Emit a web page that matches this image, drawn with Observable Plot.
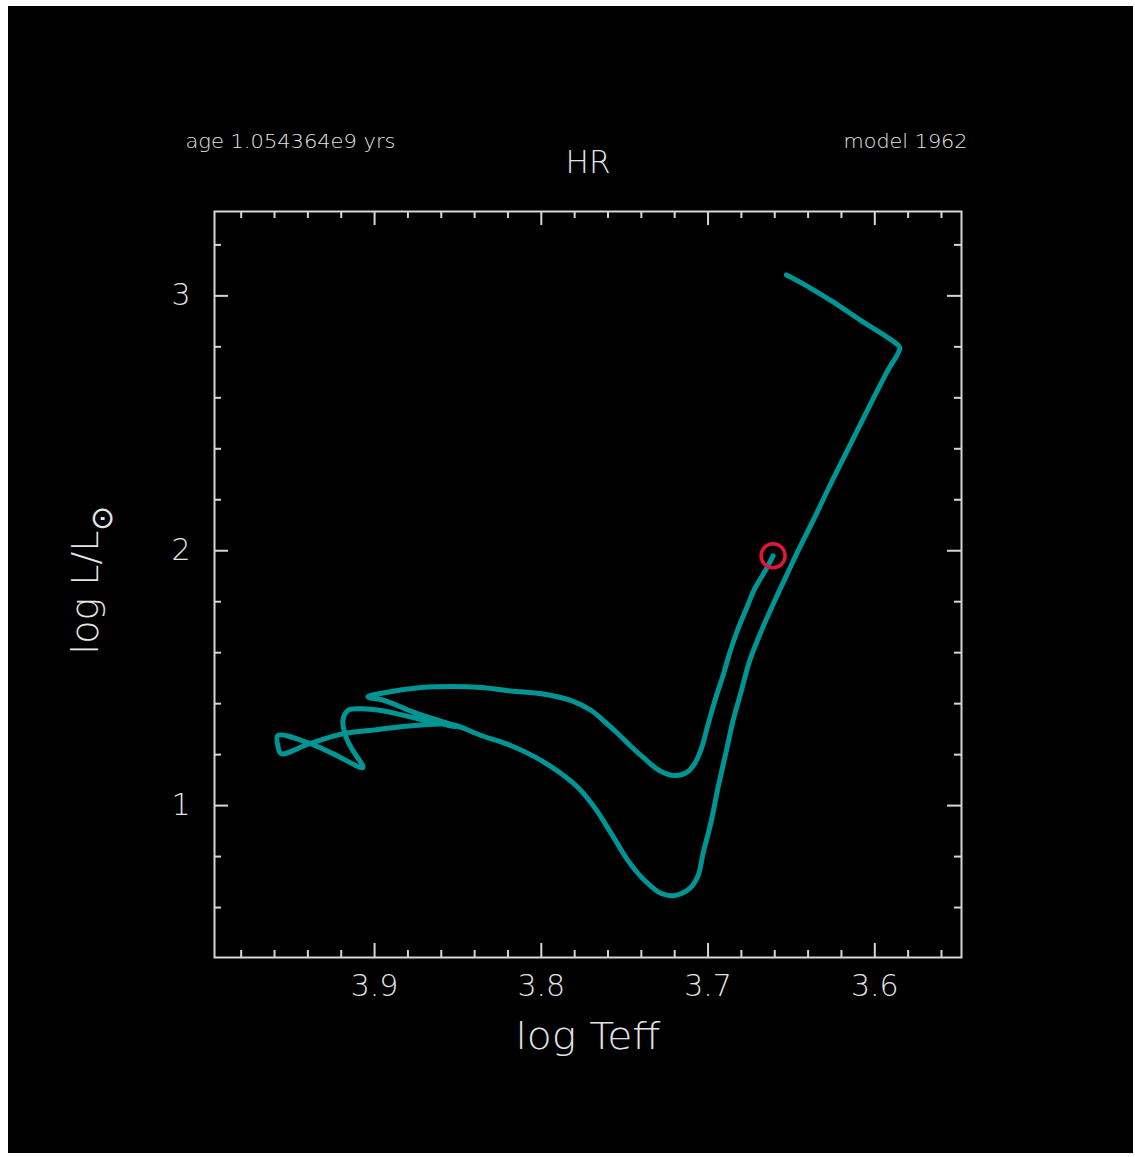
<!DOCTYPE html>
<html>
<head>
<meta charset="utf-8">
<script src="https://cdn.jsdelivr.net/npm/d3@7"></script>
<script src="https://cdn.jsdelivr.net/npm/@observablehq/plot@0.6"></script>
<style>
  html, body { margin: 0; padding: 0; background: #ffffff; }
  #panel { position: absolute; left: 8px; top: 6px; width: 1125px; height: 1147px; background: #000000; }
  #panel svg { display: block; }
</style>
</head>
<body>
<div id="panel"></div>
<script>
// Evolutionary track in the HR diagram, in order of model number
const trackLogTeff = [
  3.653, 3.644, 3.626, 3.608, 3.587, 3.585,
  3.593, 3.604, 3.615, 3.627, 3.637, 3.646, 3.653, 3.660, 3.668, 3.675,
  3.680, 3.685, 3.689, 3.694, 3.698, 3.703, 3.706, 3.711, 3.720,
  3.728, 3.738, 3.748, 3.758, 3.768, 3.778, 3.788, 3.803, 3.818, 3.836, 3.854,
  3.876, 3.899, 3.919, 3.939, 3.956, 3.958, 3.958, 3.940, 3.925, 3.907,
  3.913, 3.917, 3.919, 3.916, 3.909, 3.896, 3.874, 3.851,
  3.876, 3.894, 3.904,
  3.894, 3.872, 3.854, 3.836, 3.820, 3.800, 3.782, 3.770, 3.762, 3.754, 3.746,
  3.738, 3.729, 3.720, 3.713, 3.708, 3.704, 3.701, 3.698, 3.695, 3.691, 3.687,
  3.682, 3.677, 3.672, 3.666, 3.661
];
const trackLogL = [
  3.082, 3.051, 2.980, 2.902, 2.812, 2.796,
  2.698, 2.557, 2.412, 2.255, 2.118, 2.000, 1.902, 1.804, 1.686, 1.569,
  1.451, 1.333, 1.216, 1.071, 0.941, 0.812, 0.725, 0.675, 0.647,
  0.655, 0.706, 0.784, 0.890, 0.992, 1.071, 1.125, 1.188, 1.235, 1.275, 1.318,
  1.314, 1.298, 1.282, 1.243, 1.204, 1.235, 1.275, 1.247, 1.204, 1.149,
  1.216, 1.267, 1.333, 1.373, 1.380, 1.373, 1.341, 1.310,
  1.365, 1.412, 1.427,
  1.443, 1.463, 1.467, 1.463, 1.451, 1.439, 1.412, 1.373, 1.329, 1.282, 1.231,
  1.184, 1.137, 1.118, 1.129, 1.165, 1.224, 1.294, 1.365, 1.431, 1.510, 1.600,
  1.694, 1.773, 1.851, 1.918, 1.980
];

// Axis ticks
const xMajorTicks = [3.9, 3.8, 3.7, 3.6];
const xMinorTicks = [3.98, 3.96, 3.94, 3.92, 3.88, 3.86, 3.84, 3.82, 3.78, 3.76, 3.74, 3.72,
                     3.68, 3.66, 3.64, 3.62, 3.58, 3.56];
const yMajorTicks = [1, 2, 3];
const yMinorTicks = [0.6, 0.8, 1.2, 1.4, 1.6, 1.8, 2.2, 2.4, 2.6, 2.8, 3.2];
const xTickLabels = ["3.9", "3.8", "3.7", "3.6"];
const yTickLabels = ["1", "2", "3"];

// Header texts
const titleText = "HR";
const ageText = "age 1.054364e9 yrs";
const modelText = "model 1962";
const xLabelText = "log Teff";

const W = 1125, H = 1147;
const M = {top: 205, right: 172, bottom: 196, left: 206};
const frameW = W - M.left - M.right;
const frameH = H - M.top - M.bottom;
const majorLen = 14, minorLen = 7;
const axisColor = "#d6d6d6";
const textColor = "#e4e4e4";
const trackColor = "#009595";
const markerColor = "#e2143c";
const font = "'DejaVu Sans', sans-serif";
const fontWeight = 200;

const track = trackLogTeff.map((t, i) => ({logTeff: t, logL: trackLogL[i]}));
const current = track[track.length - 1];

const tickStyle = {stroke: axisColor, strokeWidth: 2};
const textStyle = {fill: textColor, fontWeight, lineAnchor: "middle"};

const chart = Plot.plot({
  width: W,
  height: H,
  marginTop: M.top,
  marginRight: M.right,
  marginBottom: M.bottom,
  marginLeft: M.left,
  style: {background: "#000000", color: textColor, fontFamily: font},
  x: {domain: [3.996, 3.548]},
  y: {domain: [0.404, 3.331]},
  marks: [
    // inward ticks on all four sides
    Plot.tickX(xMinorTicks, {x: d => d, insetTop: frameH - minorLen, ...tickStyle}),
    Plot.tickX(xMinorTicks, {x: d => d, insetBottom: frameH - minorLen, ...tickStyle}),
    Plot.tickX(xMajorTicks, {x: d => d, insetTop: frameH - majorLen, ...tickStyle}),
    Plot.tickX(xMajorTicks, {x: d => d, insetBottom: frameH - majorLen, ...tickStyle}),
    Plot.tickY(yMinorTicks, {y: d => d, insetRight: frameW - minorLen, ...tickStyle}),
    Plot.tickY(yMinorTicks, {y: d => d, insetLeft: frameW - minorLen, ...tickStyle}),
    Plot.tickY(yMajorTicks, {y: d => d, insetRight: frameW - majorLen, ...tickStyle}),
    Plot.tickY(yMajorTicks, {y: d => d, insetLeft: frameW - majorLen, ...tickStyle}),
    Plot.frame({stroke: axisColor, strokeWidth: 2}),
    Plot.axisX(xMajorTicks, {anchor: "bottom", tickSize: 0, tickPadding: 17, fontSize: 30,
      fontWeight, tickFormat: (d, i) => xTickLabels[i], label: null, fill: textColor}),
    Plot.axisY(yMajorTicks, {anchor: "left", tickSize: 0, tickPadding: 24, fontSize: 30,
      fontWeight, tickFormat: (d, i) => yTickLabels[i], label: null, fill: textColor}),
    // the track and the current model
    Plot.line(track, {x: "logTeff", y: "logL", stroke: trackColor, strokeWidth: 5,
      curve: "catmull-rom", strokeLinejoin: "round", strokeLinecap: "round"}),
    Plot.dot([current], {x: "logTeff", y: "logL", r: 12, stroke: markerColor, strokeWidth: 3.5, fill: "none"}),
    // titles
    Plot.text([titleText], {frameAnchor: "top", dy: -49, fontSize: 32, ...textStyle}),
    Plot.text([ageText], {frameAnchor: "top-left", textAnchor: "start", dx: -29, dy: -70, fontSize: 20, ...textStyle}),
    Plot.text([modelText], {frameAnchor: "top-right", textAnchor: "end", dx: 6, dy: -70, fontSize: 20, ...textStyle}),
    Plot.text([xLabelText], {frameAnchor: "bottom", dy: 79, fontSize: 38, ...textStyle})
  ]
});

const svg = d3.select(chart);
const widths = {[ageText]: 210, [modelText]: 124, [xLabelText]: 145, [titleText]: 45};
svg.selectAll("text").each(function() {
  const w = widths[this.textContent];
  if (w) d3.select(this).attr("textLength", w).attr("lengthAdjust", "spacingAndGlyphs");
});

// y label with the solar subscript
const ylab = svg.append("text")
  .attr("transform", `translate(${M.left - 116},${M.top + frameH / 2 - 4}) rotate(-90)`)
  .attr("text-anchor", "middle")
  .attr("fill", textColor)
  .attr("font-family", font)
  .attr("font-weight", fontWeight)
  .attr("font-size", 38);
ylab.append("tspan").text("log L/L");
ylab.append("tspan").attr("font-size", 30).attr("dy", 14).text("\u2299");

document.getElementById("panel").appendChild(chart);
</script>
</body>
</html>
